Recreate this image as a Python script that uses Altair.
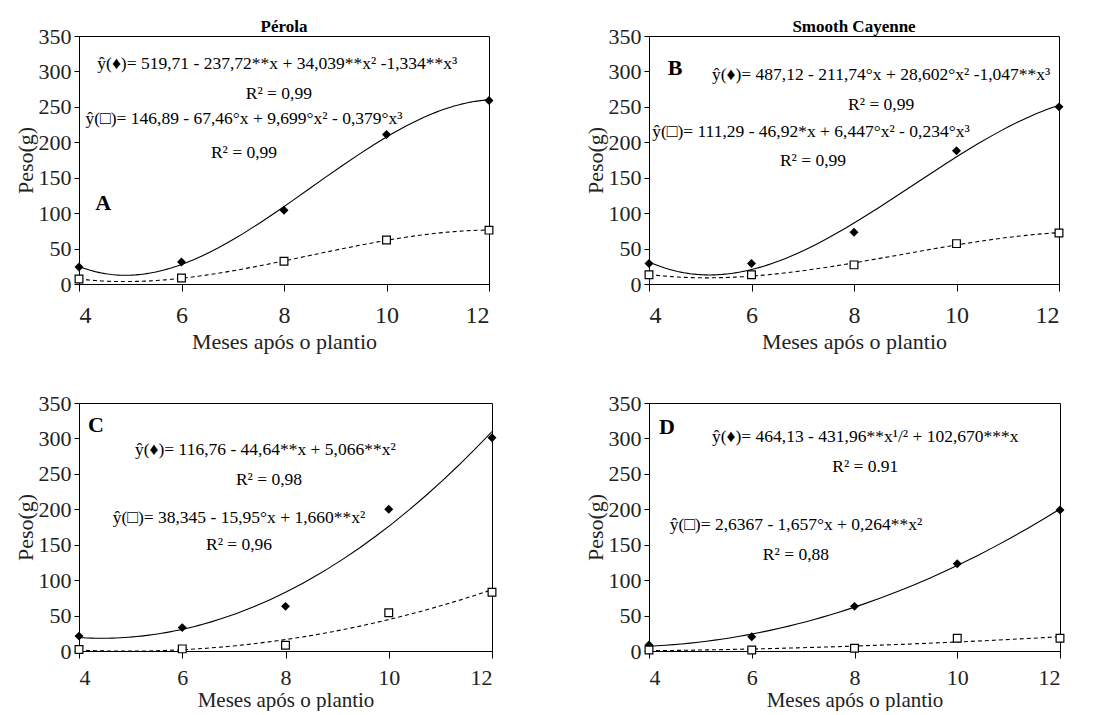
import altair as alt
import pandas as pd

# ---- data ----
meses = [4, 6, 8, 10, 12]
x_ticks = [4, 6, 8, 10, 12]
y_ticks = [0, 50, 100, 150, 200, 250, 300, 350]

a_diam = [24, 31, 104, 211, 259]
a_quad = [7, 8.5, 32, 62, 76]
b_diam = [29, 29, 73, 188, 250]
b_quad = [13, 13, 27, 57, 72]
c_diam = [21, 33, 63, 200, 301]
c_quad = [2, 3, 8, 54, 83]
d_diam = [8.5, 20, 63, 123, 199]
d_quad = [1.5, 1.5, 4, 18, 18]

a_eqs = ["ŷ(♦)= 519,71 - 237,72**x + 34,039**x² -1,334**x³", "R² = 0,99",
         "ŷ(□)= 146,89 - 67,46°x + 9,699°x²  - 0,379°x³", "R² = 0,99"]
b_eqs = ["ŷ(♦)= 487,12 - 211,74°x + 28,602°x² -1,047**x³", "R² = 0,99",
         "ŷ(□)= 111,29 - 46,92*x + 6,447°x²  - 0,234°x³", "R² = 0,99"]
c_eqs = ["ŷ(♦)= 116,76 - 44,64**x + 5,066**x²", "R² = 0,98",
         "ŷ(□)= 38,345 - 15,95°x + 1,660**x²", "R² = 0,96"]
d_eqs = ["ŷ(♦)= 464,13 - 431,96**x¹/² + 102,670***x", "R² = 0.91",
         "ŷ(□)= 2,6367 - 1,657°x + 0,264**x²", "R² = 0,88"]

# annotation anchors (data units)
a_eq_x = [7.87, 7.9, 7.22, 7.22]; a_eq_y = [310, 268, 233, 185]
b_eq_x = [8.53, 8.53, 7.16, 7.2]; b_eq_y = [295, 252, 215, 173]
c_eq_x = [7.61, 7.68, 7.1, 7.1]; c_eq_y = [283, 242, 188, 149]
d_eq_x = [8.21, 8.21, 6.86, 6.86]; d_eq_y = [302, 259, 178, 136]

FONT = "'Liberation Serif', 'Times New Roman', serif"

xscale = alt.Scale(domain=[4, 12], nice=False, zero=False)
yscale = alt.Scale(domain=[0, 350], nice=False)


def make_xaxis(label_size, label_pad, title_pad, title_size):
    return alt.Axis(values=x_ticks, title="Meses após o plantio", grid=False,
                    tickSize=7, labelPadding=label_pad, labelFontSize=label_size,
                    labelFont=FONT, titleFont=FONT, titleFontSize=title_size,
                    titleFontWeight="normal", titlePadding=title_pad,
                    domainColor="black", tickColor="black",
                    labelColor="#222", titleColor="#222")


yaxis = alt.Axis(values=y_ticks, title="Peso(g)", grid=False,
                 tickSize=5, labelPadding=3, labelFontSize=22, labelFont=FONT,
                 titleFont=FONT, titleFontSize=22, titleFontWeight="normal",
                 titlePadding=1, domainColor="black", tickColor="black",
                 labelColor="#222", titleColor="#222")


def panel(diam, quad, order_d, order_q, eqs, ex, ey, letter, lx, ly, title, w, h, xaxis):
    df = pd.DataFrame({"mes": meses * 2, "peso": diam + quad,
                       "serie": ["d"] * 5 + ["q"] * 5})
    base = alt.Chart(df)
    X = alt.X("mes:Q", scale=xscale, axis=xaxis)
    Y = alt.Y("peso:Q", scale=yscale, axis=yaxis)
    line_d = base.transform_filter(alt.datum.serie == "d").transform_regression(
        "mes", "peso", method="poly", order=order_d, extent=[4, 12]
    ).mark_line(color="black", strokeWidth=1.1, clip=True).encode(x=X, y=Y)
    line_q = base.transform_filter(alt.datum.serie == "q").transform_regression(
        "mes", "peso", method="poly", order=order_q, extent=[4, 12]
    ).mark_line(color="black", strokeWidth=1.1, strokeDash=[4, 3], clip=True).encode(x=X, y=Y)
    pts_d = base.transform_filter(alt.datum.serie == "d").mark_point(
        shape="diamond", filled=True, color="black", size=80, opacity=1
    ).encode(x=X, y=Y)
    pts_q = base.transform_filter(alt.datum.serie == "q").mark_point(
        shape="square", filled=True, fill="white", stroke="black", strokeWidth=1.2,
        size=60, opacity=1
    ).encode(x=X, y=Y)
    tdf = pd.DataFrame({"mes": ex, "peso": ey, "t": eqs})
    txt = alt.Chart(tdf).mark_text(font=FONT, fontSize=17.5, color="black").encode(
        x=X, y=Y, text="t:N")
    ldf = pd.DataFrame({"mes": [lx], "peso": [ly], "t": [letter]})
    let = alt.Chart(ldf).mark_text(font=FONT, fontSize=22, fontWeight="bold",
                                   color="black").encode(x=X, y=Y, text="t:N")
    props = dict(width=w, height=h)
    if title:
        props["title"] = alt.TitleParams(title, font=FONT, fontSize=17,
                                         fontWeight="bold", offset=-11, frame="group",
                                         color="black")
    return alt.layer(line_d, line_q, pts_d, pts_q, txt, let).properties(**props)


top_x = make_xaxis(24, 12, 4, 22)
bot_x = make_xaxis(22, 9, 1, 21)

A = panel(a_diam, a_quad, 3, 3, a_eqs, a_eq_x, a_eq_y, "A", 4.47, 114, "Pérola", 410, 248, top_x)
B = panel(b_diam, b_quad, 3, 3, b_eqs, b_eq_x, b_eq_y, "B", 4.51, 305, "Smooth Cayenne", 410, 248, top_x)
C = panel(c_diam, c_quad, 2, 2, c_eqs, c_eq_x, c_eq_y, "C", 4.33, 319, None, 413, 248, bot_x)
D = panel(d_diam, d_quad, 2, 2, d_eqs, d_eq_x, d_eq_y, "D", 4.35, 316, None, 411, 248, bot_x)

chart = alt.concat(A, B, C, D, columns=2, bounds="flush",
                   spacing={"row": 119, "column": 157}).properties(
    padding={"left": 13, "top": 17, "right": 5, "bottom": 0},
    background="white",
).configure_view(stroke="black", strokeWidth=1)

chart.save("out.html", embed_options={"renderer": "svg", "actions": False})
